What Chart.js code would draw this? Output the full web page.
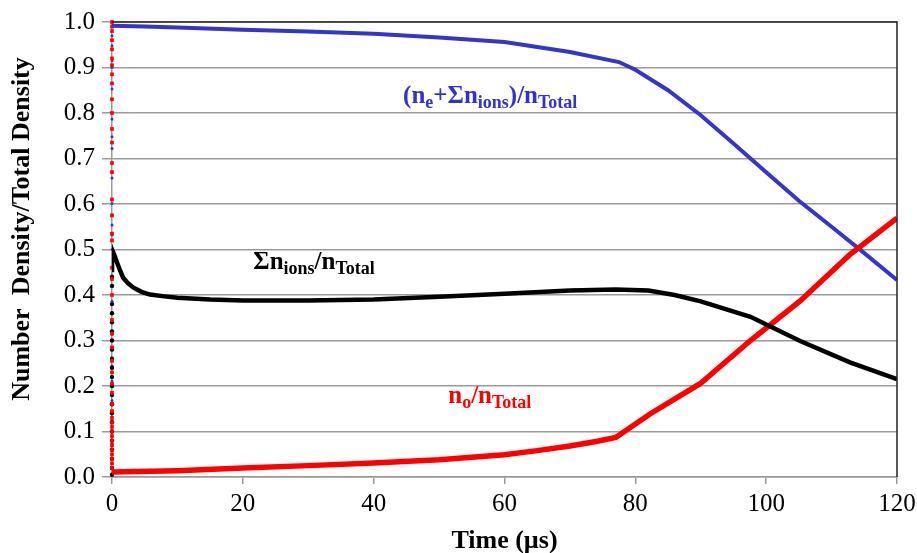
<!DOCTYPE html>
<html>
<head>
<meta charset="utf-8">
<script src="https://cdn.jsdelivr.net/npm/chart.js@4"></script>
<style>
html,body{margin:0;padding:0;background:#fff;}
#wrap{width:917px;height:553px;position:relative;}
</style>
</head>
<body>
<div id="wrap"><canvas id="c" width="917" height="553"></canvas></div>
<script>
// ---- data ----
const blueTime = [0, 5, 10, 20, 30, 40, 50, 60, 70, 77.5, 80, 85, 90, 95, 100, 105, 110, 115, 120];
const blueVal  = [0.992, 0.99, 0.988, 0.983, 0.979, 0.974, 0.966, 0.956, 0.934, 0.912, 0.895, 0.85, 0.795, 0.733, 0.67, 0.607, 0.55, 0.492, 0.433];

const blackTime = [0, 0, 0.3, 0.7, 1.2, 1.7, 2.5, 3.3, 4.5, 5.8, 8, 10, 15, 20, 30, 40, 50, 60, 70, 77, 82, 86, 90, 97.6, 105.2, 112.8, 120];
const blackVal  = [0.45, 0.5, 0.49, 0.474, 0.455, 0.438, 0.425, 0.416, 0.407, 0.401, 0.397, 0.394, 0.39, 0.388, 0.388, 0.39, 0.396, 0.403, 0.41, 0.412, 0.41, 0.4, 0.386, 0.352, 0.299, 0.252, 0.215];

const redTime = [0, 10, 20, 30, 40, 50, 60, 65, 70, 74, 77, 82.3, 89.9, 97.6, 105.2, 112.8, 120];
const redVal  = [0.011, 0.014, 0.02, 0.025, 0.031, 0.038, 0.049, 0.058, 0.068, 0.078, 0.087, 0.139, 0.205, 0.3, 0.387, 0.489, 0.569];

// transient samples sitting on t = 0
const redDotVal = [1.0, 0.99, 0.98, 0.96, 0.94, 0.92, 0.905, 0.885, 0.865, 0.83, 0.80, 0.765, 0.735, 0.69, 0.67, 0.61, 0.575, 0.535, 0.52, 0.46, 0.435, 0.40, 0.345, 0.315, 0.285, 0.255, 0.23, 0.205, 0.185, 0.16, 0.145, 0.13, 0.12, 0.11, 0.10, 0.09, 0.08, 0.07, 0.06, 0.05, 0.04, 0.03, 0.02];
const blueDotVal = [0.97, 0.948, 0.915, 0.9, 0.853, 0.787, 0.748, 0.722, 0.657, 0.601, 0.576, 0.554, 0.532, 0.5, 0.386, 0.314, 0.28, 0.244, 0.211, 0.168, 0.124, 0.073, 0.007];
const blackDotVal = [0.44, 0.42, 0.38, 0.36, 0.34, 0.32, 0.30, 0.28, 0.26, 0.24, 0.22, 0.20, 0.18, 0.16, 0.14, 0.12, 0.10, 0.08, 0.06, 0.04, 0.02, 0.005];

const xTicks = [0, 20, 40, 60, 80, 100, 120];
const yTicks = [0.0, 0.1, 0.2, 0.3, 0.4, 0.5, 0.6, 0.7, 0.8, 0.9, 1.0];
const yTitle = 'Number  Density/Total Density';
const xTitle = 'Time (µs)';

const BLUE = '#3535C8', RED = '#FF0000', BLACK = '#000000';
const SERIF = '"Liberation Serif", "Times New Roman", serif';

function pts(t, v){ return t.map((x,i)=>({x:x, y:v[i]})); }
function dots(v){ return v.map(y=>({x:0, y:y})); }

const labels = [
  {x: 44.5, y: 0.822, color: '#3333CC', parts: [['(n',0],['e',1],['+Σn',0],['ions',1],[')/n',0],['Total',1]]},
  {x: 21.6, y: 0.457, color: '#000000', parts: [['Σn',0],['ions',1],['/n',0],['Total',1]]},
  {x: 51.4, y: 0.163, color: '#FF0000', parts: [['n',0],['o',1],['/n',0],['Total',1]]}
];

const labelPlugin = {
  id: 'seriesLabels',
  afterDatasetsDraw(chart){
    const ctx = chart.ctx, xs = chart.scales.x, ys = chart.scales.y;
    ctx.save();
    ctx.textBaseline = 'alphabetic';
    ctx.textAlign = 'left';
    labels.forEach(l => {
      let px = xs.getPixelForValue(l.x);
      const py = ys.getPixelForValue(l.y);
      ctx.fillStyle = l.color;
      l.parts.forEach(p => {
        ctx.font = p[1] ? 'bold 18px ' + SERIF : 'bold 25px ' + SERIF;
        ctx.fillText(p[0], px, py + (p[1] ? 5 : 0));
        px += ctx.measureText(p[0]).width;
      });
    });
    // y axis title
    ctx.save();
    ctx.translate(22, 229);
    ctx.rotate(-Math.PI / 2);
    ctx.textAlign = 'center';
    ctx.textBaseline = 'middle';
    ctx.fillStyle = '#000';
    ctx.font = 'bold 26px ' + SERIF;
    ctx.fillText(yTitle, 0, 0);
    ctx.restore();
    ctx.restore();
  }
};

const borderPlugin = {
  id: 'frame',
  afterDraw(chart){
    const a = chart.chartArea, ctx = chart.ctx;
    ctx.save();
    ctx.strokeStyle = '#222';
    ctx.lineWidth = 1.5;
    ctx.beginPath();
    ctx.moveTo(a.left, a.top);
    ctx.lineTo(a.right, a.top);
    ctx.lineTo(a.right, a.bottom);
    ctx.stroke();
    ctx.restore();
  }
};

new Chart(document.getElementById('c'), {
  type: 'scatter',
  data: {
    datasets: [
      {data: pts(blackTime, blackVal), showLine: true, borderColor: BLACK, borderWidth: 4.5, pointRadius: 0, order: 0},
      {data: pts(redTime, redVal), showLine: true, borderColor: RED, borderWidth: 5.5, pointRadius: 0, order: 1},
      {data: pts(blueTime, blueVal), showLine: true, borderColor: BLUE, borderWidth: 4, pointRadius: 0, order: 2},
      {data: dots(redDotVal), showLine: false, pointStyle: 'rect', pointRadius: 2.6, pointBackgroundColor: RED, pointBorderWidth: 0, clip: false, order: 3},
      {data: dots(blackDotVal), showLine: false, pointStyle: 'circle', pointRadius: 2.2, pointBackgroundColor: BLACK, pointBorderWidth: 0, clip: false, order: 4},
      {data: dots(blueDotVal), showLine: false, pointStyle: 'circle', pointRadius: 1.5, pointBackgroundColor: BLUE, pointBorderWidth: 0, clip: false, order: 5}
    ]
  },
  options: {
    responsive: false,
    animation: false,
    events: [],
    layout: {padding: {top: 20, right: 20, left: 0, bottom: 0}},
    plugins: {legend: {display: false}, tooltip: {enabled: false}},
    scales: {
      x: {
        type: 'linear', min: 0, max: 120,
        afterBuildTicks(s){ s.ticks = xTicks.map(v=>({value:v})); },
        afterFit(s){ s.height = 76; s.paddingRight = 0; s.paddingLeft = 0; },
        ticks: {font: {family: SERIF, size: 25}, color: '#000', padding: 5},
        grid: {color: 'transparent', tickColor: '#999', tickLength: 7, lineWidth: 1.5},
        border: {color: '#999', width: 1.5},
        title: {display: true, text: xTitle, font: {family: SERIF, size: 26, weight: 'bold'}, color: '#000', padding: {top: 0, bottom: -4}}
      },
      y: {
        type: 'linear', min: 0, max: 1,
        afterBuildTicks(s){ s.ticks = yTicks.map(v=>({value:v})); },
        afterFit(s){ s.width = 112; },
        ticks: {font: {family: SERIF, size: 25}, color: '#000', padding: 7, callback: v => v.toFixed(1)},
        grid: {color: '#9a9a9a', tickColor: '#9a9a9a', tickLength: 10, lineWidth: 1.5},
        border: {color: '#999', width: 1.5}
      }
    }
  },
  plugins: [labelPlugin, borderPlugin]
});
</script>
</body>
</html>
